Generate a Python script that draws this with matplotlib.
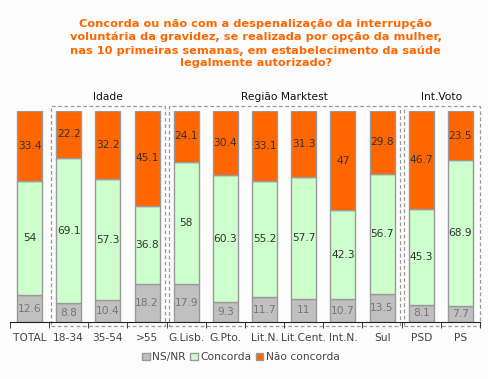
import matplotlib
matplotlib.use("Agg")
import matplotlib.pyplot as plt
from matplotlib.patches import Rectangle, Patch

categories = ["TOTAL", "18-34", "35-54", ">55", "G.Lisb.", "G.Pto.", "Lit.N.",
              "Lit.Cent.", "Int.N.", "Sul", "PSD", "PS"]
ns_nr = [12.6, 8.8, 10.4, 18.2, 17.9, 9.3, 11.7, 11, 10.7, 13.5, 8.1, 7.7]
concorda = [54, 69.1, 57.3, 36.8, 58, 60.3, 55.2, 57.7, 42.3, 56.7, 45.3, 68.9]
nao_concorda = [33.4, 22.2, 32.2, 45.1, 24.1, 30.4, 33.1, 31.3, 47, 29.8, 46.7, 23.5]
series_names = ["NS/NR", "Concorda", "Não concorda"]

# grupos: (nome, primeiro indice, ultimo indice)
groups = [("Idade", 1, 3), ("Região Marktest", 4, 9), ("Int.Voto", 10, 11)]

title = ("Concorda ou não com a despenalização da interrupção\n"
         "voluntária da gravidez, se realizada por opção da mulher,\n"
         "nas 10 primeiras semanas, em estabelecimento da saúde\n"
         "legalmente autorizado?")

colors = ["#c0c0c0", "#ccffcc", "#ff6600"]
bg = "#fcfcfc"
fs = 7.7

fig = plt.figure(figsize=(4.89, 3.79), dpi=100, facecolor=bg)
ax = fig.add_axes([10 / 489, 57 / 379, 470 / 489, 211 / 379])
ax.set_facecolor(bg)

x = list(range(len(categories)))
w = 0.64
bottom = [0] * len(categories)
for vals, col in zip([ns_nr, concorda, nao_concorda], colors):
    ax.bar(x, vals, w, bottom=bottom, color=col, edgecolor="#999999", linewidth=1)
    for i, v in enumerate(vals):
        tc = "#777777" if col == colors[0] else "#333333"
        ax.text(i, bottom[i] + v / 2, f"{v:g}", ha="center", va="center",
                fontsize=fs, color=tc)
    bottom = [b + v for b, v in zip(bottom, vals)]

ax.set_xlim(-0.5, len(categories) - 0.5)
ax.set_ylim(0, 100)
for s in ["top", "right", "left"]:
    ax.spines[s].set_visible(False)
ax.spines["bottom"].set_color("#222222")
ax.set_yticks([])
ax.set_xticks(x)
ax.set_xticklabels(categories, fontsize=fs, color="#444444")
ax.tick_params(axis="x", which="major", length=0, pad=8)
ax.set_xticks([i - 0.5 for i in range(len(categories) + 1)], minor=True)
ax.tick_params(axis="x", which="minor", length=4, color="#222222")

for name, a, b in groups:
    x0 = a - 0.5 + 0.05
    x1 = b + 0.5 - 0.05 if b < len(categories) - 1 else b + 0.5
    ax.add_patch(Rectangle((x0, -1.9), x1 - x0, 104.3, fill=False,
                           edgecolor="#999999", linestyle=(0, (3, 2)),
                           linewidth=0.9, clip_on=False))
    ax.text((x0 + x1) / 2, 106.8, name, ha="center", va="center",
            fontsize=fs, color="#111111")

fig.text(0.523, 0.885, title, ha="center", va="center", fontsize=8.2,
         fontweight="bold", color="#ff6600", linespacing=1.32)

handles = [Patch(facecolor=c, edgecolor="#999999", label=n)
           for c, n in zip(colors, series_names)]
fig.legend(handles=handles, loc="center", bbox_to_anchor=(0.493, 0.058),
           ncol=3, frameon=False, fontsize=fs, handlelength=0.7,
           handleheight=0.7, handletextpad=0.25, columnspacing=0.4,
           labelcolor="#444444")

fig.savefig("out.png", dpi=100, facecolor=bg)
